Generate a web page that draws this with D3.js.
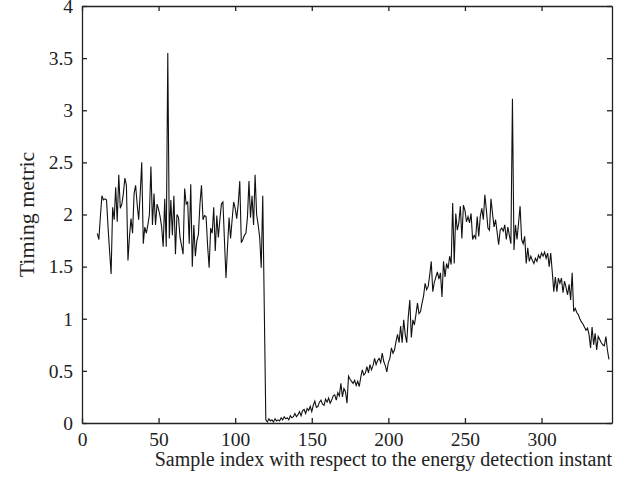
<!DOCTYPE html>
<html>
<head>
<meta charset="utf-8">
<script src="https://cdn.jsdelivr.net/npm/d3@7"></script>
<style>
  body { margin: 0; background: #fff; }
  .axis text { font-family: "Liberation Serif", "DejaVu Serif", serif; font-size: 19.5px; fill: #222; }
  .axis path, .axis line { stroke: #222; stroke-width: 1.3; }
</style>
</head>
<body>
<svg id="svg" width="627" height="486"></svg>
<script>
// sample index of the first value in each segment
const startBefore = 10,
    startAfter = 120;

// timing metric before the detected start (samples 10..119)
const metricBefore = [
  1.82, 1.76, 1.98, 2.18, 2.14, 2.15, 2.14, 1.88, 1.65, 1.43,
  2.07, 1.95, 2.26, 1.93, 2.38, 2.06, 2.1, 2.2, 2.35, 2.28,
  1.56, 1.79, 1.96, 1.82, 2.2, 2.28, 2.1, 1.95, 2.2, 2.5,
  1.72, 1.88, 1.82, 1.9, 2.0, 2.46, 1.9, 2.2, 1.9, 2.1,
  2.05, 1.98, 1.88, 1.69, 2.15, 1.69, 3.55, 1.77, 2.14, 1.8,
  2.18, 1.62, 2.0, 1.97, 1.78, 1.7, 1.62, 2.25, 2.1, 2.12,
  1.72, 2.29, 1.5, 1.9, 1.6, 1.75, 1.81, 2.1, 2.28, 1.95,
  1.99, 1.98, 1.7, 1.49, 1.87, 1.82, 2.07, 1.65, 1.99, 1.78,
  1.95, 2.1, 2.12, 1.75, 1.39, 1.69, 1.97, 1.77, 1.95, 2.12,
  2.06, 1.96, 2.1, 2.32, 1.73, 1.76, 1.8, 1.82, 1.97, 2.32,
  1.97, 2.18, 1.9, 2.38, 2.0, 1.9, 1.78, 1.49, 2.18, 1.1
];

// timing metric from sample 120 to 344
const metricAfter = [
  0.03, 0.01, 0.04, 0.02, 0.03, 0.01, 0.04, 0.02, 0.03, 0.02,
  0.05, 0.03, 0.06, 0.04, 0.05, 0.03, 0.07, 0.05, 0.06, 0.09,
  0.06, 0.08, 0.11, 0.07, 0.12, 0.13, 0.09, 0.14, 0.12, 0.16,
  0.11, 0.17, 0.21, 0.15, 0.16, 0.2, 0.22, 0.18, 0.17, 0.23,
  0.2, 0.24, 0.19, 0.22, 0.26, 0.27, 0.22, 0.29, 0.26, 0.38,
  0.25, 0.33, 0.3, 0.19, 0.45, 0.42, 0.4, 0.38, 0.41, 0.36,
  0.4, 0.35, 0.44, 0.51, 0.46, 0.48, 0.54, 0.48, 0.56, 0.51,
  0.55, 0.62, 0.56, 0.6, 0.62, 0.58, 0.67, 0.59, 0.55, 0.49,
  0.58, 0.62, 0.72, 0.67, 0.7, 0.78, 0.85, 0.77, 0.93, 0.77,
  0.99, 0.85, 0.77, 1.02, 1.18, 0.82, 0.99, 0.94, 1.04, 1.15,
  1.05, 1.07, 1.15, 1.22, 1.34, 1.28, 1.31, 1.42, 1.55, 1.26,
  1.35, 1.4, 1.45, 1.38, 1.44, 1.21, 1.55, 1.4, 1.53, 1.48,
  1.6, 1.52, 2.11, 1.53, 2.01, 1.85, 1.92, 2.08, 1.77, 2.09,
  2.04, 1.93, 1.98, 1.92, 2.01, 1.76, 1.8, 1.77, 1.98, 1.79,
  1.98, 2.06, 1.95, 2.19, 2.04, 1.87, 1.85, 2.15, 2.01, 1.88,
  1.95, 1.83, 1.71, 1.85, 1.87, 1.84, 1.9, 1.76, 1.88, 1.8,
  1.72, 3.11, 1.66, 1.9, 1.76, 1.92, 2.08, 1.76, 1.72, 1.79,
  1.53, 1.68, 1.55, 1.6, 1.56, 1.53, 1.58, 1.55, 1.61, 1.58,
  1.63, 1.6, 1.64, 1.58, 1.63, 1.5, 1.63, 1.45, 1.26, 1.4,
  1.26, 1.39, 1.34, 1.39, 1.25, 1.36, 1.3, 1.23, 1.33, 1.18,
  1.44, 1.07, 1.1, 1.06, 1.04, 1.0, 0.97, 0.95, 0.92, 0.89,
  0.91, 0.85, 0.72, 0.92, 0.75, 0.86, 0.7, 0.83, 0.8, 0.77,
  0.75, 0.74, 0.83, 0.7, 0.61
];

const xTicks = [0, 50, 100, 150, 200, 250, 300],
    yTicks = [0, 0.5, 1, 1.5, 2, 2.5, 3, 3.5, 4],
    xLabel = "Sample index with respect to the energy detection instant",
    yLabel = "Timing metric";

const mLeft = 82, mTop = 6, w = 530, h = 417;

const x = d3.scaleLinear().range([0, w]).domain([0, 346]),
    y = d3.scaleLinear().range([h, 0]).domain([0, 4]);

const points = metricBefore.map((v, i) => [startBefore + i, v])
    .concat(metricAfter.map((v, i) => [startAfter + i, v]));

const svg = d3.select("#svg");
const g = svg.append("g").attr("transform", "translate(" + mLeft + ", " + mTop + ")");

const fmt = d => String(d);
g.append("g").attr("class", "axis").attr("transform", "translate(0, " + h + ")")
    .call(d3.axisBottom(x).tickValues(xTicks).tickFormat(fmt).tickSizeInner(-5).tickSizeOuter(0).tickPadding(9));
g.append("g").attr("class", "axis")
    .call(d3.axisTop(x).tickValues(xTicks).tickFormat("").tickSizeInner(-5).tickSizeOuter(0));
g.append("g").attr("class", "axis")
    .call(d3.axisLeft(y).tickValues(yTicks).tickFormat(fmt).tickSizeInner(-5).tickSizeOuter(0).tickPadding(9));
g.append("g").attr("class", "axis").attr("transform", "translate(" + w + ", 0)")
    .call(d3.axisRight(y).tickValues(yTicks).tickFormat("").tickSizeInner(-5).tickSizeOuter(0));

g.append("path").datum(points)
    .attr("fill", "none")
    .style("stroke", "#111")
    .style("stroke-width", 1.1)
    .attr("d", d3.line().x(d => x(d[0])).y(d => y(d[1])));

svg.append("text")
    .attr("x", mLeft + w).attr("y", 466)
    .attr("text-anchor", "end")
    .style("font-family", "'Liberation Serif', serif").style("font-size", "20px").style("fill", "#222")
    .text(xLabel);

svg.append("text")
    .attr("transform", "translate(34, " + (mTop + h / 2) + ") rotate(-90)")
    .attr("text-anchor", "middle")
    .style("font-family", "'Liberation Serif', serif").style("font-size", "22px").style("fill", "#222")
    .text(yLabel);
</script>
</body>
</html>
